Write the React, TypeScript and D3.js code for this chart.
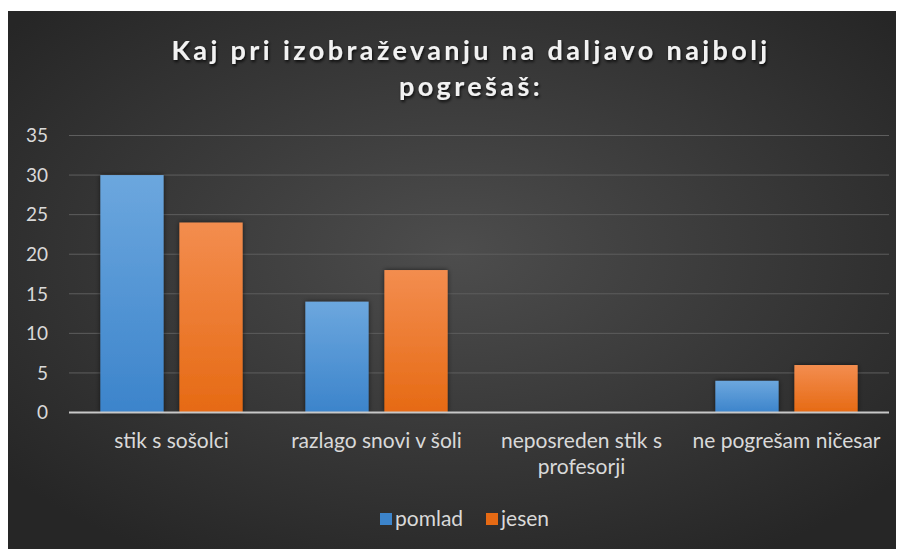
import * as d3 from 'd3';
import React, { useEffect, useRef } from 'react';

const title = ['Kaj pri izobraževanju na daljavo najbolj', 'pogrešaš:'];
const categories = [['stik s sošolci'], ['razlago snovi v šoli'], ['neposreden stik s', 'profesorji'], ['ne pogrešam ničesar']];
const seriesNames = ['pomlad', 'jesen'];
const pomlad = [30, 14, 0, 4];
const jesen = [24, 18, 0, 6];
const yTicks = [0, 5, 10, 15, 20, 25, 30, 35];

const W = 896;
const H = 541;

const App = () => {
  const ref = useRef<SVGSVGElement>(null);

  useEffect(() => {
    const svg = d3.select(ref.current);
    svg.selectAll('*').remove();

    const defs = svg.append('defs');
    const bg = defs.append('radialGradient').attr('id', 'bg')
      .attr('cx', '50%').attr('cy', '45%').attr('r', '65%');
    bg.append('stop').attr('offset', '0%').attr('stop-color', '#4d4d4d');
    bg.append('stop').attr('offset', '100%').attr('stop-color', '#262626');

    const grads = [['#6ca7de', '#3c84cb'], ['#f38d4f', '#e66a14']];
    grads.forEach((g, i) => {
      const lg = defs.append('linearGradient').attr('id', `bar${i}`)
        .attr('x1', 0).attr('y1', 0).attr('x2', 0).attr('y2', 1);
      lg.append('stop').attr('offset', '0%').attr('stop-color', g[0]);
      lg.append('stop').attr('offset', '100%').attr('stop-color', g[1]);
    });
    const sh = defs.append('filter').attr('id', 'sh').attr('x', '-20%').attr('y', '-20%').attr('width', '140%').attr('height', '140%');
    sh.append('feDropShadow').attr('dx', 0).attr('dy', 0).attr('stdDeviation', 2.5).attr('flood-color', '#000').attr('flood-opacity', 0.6);
    const tsh = defs.append('filter').attr('id', 'tsh');
    tsh.append('feDropShadow').attr('dx', 1).attr('dy', 2).attr('stdDeviation', 1.5).attr('flood-color', '#000').attr('flood-opacity', 0.8);

    svg.append('rect').attr('x', 0).attr('y', 3).attr('width', W).attr('height', H - 3).attr('fill', 'url(#bg)');

    const font = 'Lato, "Open Sans", sans-serif';

    // title
    svg.append('g').attr('filter', 'url(#tsh)')
      .selectAll('text').data(title).enter().append('text')
      .attr('x', 463).attr('y', (d, i) => 52 + i * 36)
      .attr('text-anchor', 'middle')
      .attr('font-family', font).attr('font-weight', 'bold').attr('font-size', 27)
      .attr('letter-spacing', 3.4).attr('fill', '#f2f2f2')
      .text(d => d);

    const x0 = d3.scaleBand().domain(d3.range(categories.length).map(String)).range([61, 881]);
    const x1 = d3.scaleBand().domain(seriesNames).range([x0.bandwidth() * 0.153, x0.bandwidth() * 0.847]).paddingInner(0.2);
    const y = d3.scaleLinear().domain([0, 35]).range([404.5, 127.5]);

    const grid = svg.append('g');
    grid.selectAll('line').data(yTicks.filter(t => t > 0)).enter().append('line')
      .attr('x1', 61).attr('x2', 881)
      .attr('y1', d => y(d)).attr('y2', d => y(d))
      .attr('stroke', '#5e5e5e').attr('stroke-width', 1);

    svg.append('g').selectAll('text').data(yTicks).enter().append('text')
      .attr('x', 40).attr('y', d => y(d)).attr('dy', '0.36em')
      .attr('text-anchor', 'end')
      .attr('font-family', font).attr('font-size', 19).attr('fill', '#d9d9d9')
      .text(d => d);

    const series = [pomlad, jesen];
    const bars = svg.append('g').attr('filter', 'url(#sh)');
    series.forEach((vals, si) => {
      bars.selectAll(`.b${si}`).data(vals).enter().append('rect')
        .attr('class', `b${si}`)
        .attr('x', (d, i) => (x0(String(i)) as number) + (x1(seriesNames[si]) as number))
        .attr('width', x1.bandwidth())
        .attr('y', d => y(d))
        .attr('height', d => y(0) - y(d))
        .attr('fill', `url(#bar${si})`);
    });

    svg.append('line').attr('x1', 61).attr('x2', 881).attr('y1', y(0)).attr('y2', y(0))
      .attr('stroke', '#c8c8c8').attr('stroke-width', 2);

    const cat = svg.append('g');
    categories.forEach((lines, i) => {
      cat.append('text')
        .attr('x', (x0(String(i)) as number) + x0.bandwidth() / 2)
        .attr('font-family', font).attr('font-size', 21).attr('fill', '#d9d9d9')
        .attr('text-anchor', 'middle')
        .selectAll('tspan').data(lines).enter().append('tspan')
        .attr('x', (x0(String(i)) as number) + x0.bandwidth() / 2)
        .attr('y', (d, j) => 440 + j * 26)
        .text(d => d);
    });

    const legend = svg.append('g').attr('transform', 'translate(372,511)');
    const lx = [0, 106];
    seriesNames.forEach((name, i) => {
      legend.append('rect').attr('x', lx[i]).attr('y', -6).attr('width', 12).attr('height', 12)
        .attr('fill', grads[i][1]);
      legend.append('text').attr('x', lx[i] + 15).attr('y', 0).attr('dy', '0.35em')
        .attr('font-family', font).attr('font-size', 21).attr('fill', '#d9d9d9')
        .text(name);
    });
  }, []);

  return <svg ref={ref} width={W} height={H} style={{ display: 'block' }}></svg>;
};

export default App;
